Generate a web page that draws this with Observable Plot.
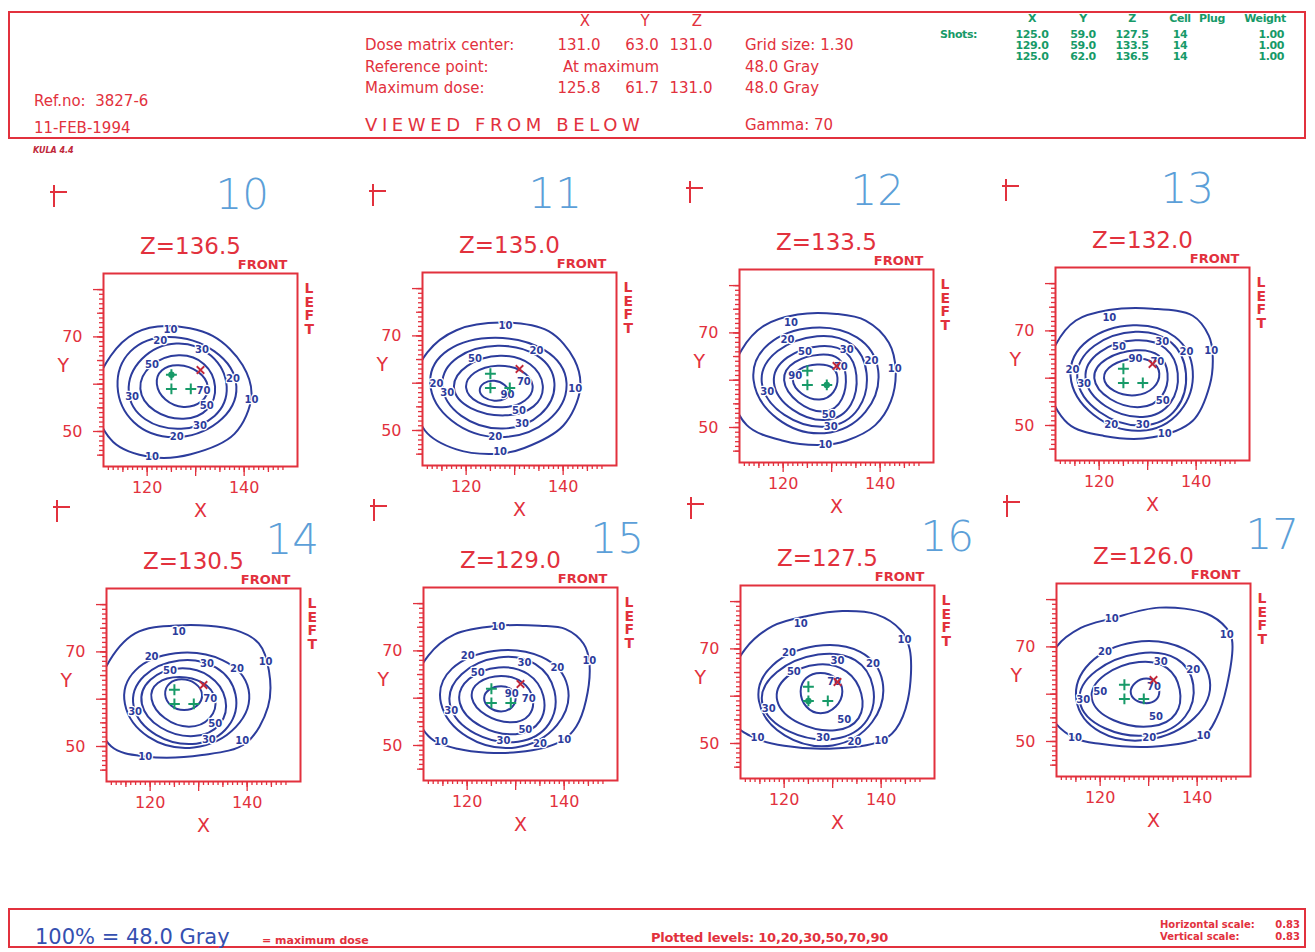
<!DOCTYPE html>
<html><head><meta charset="utf-8">
<script src="https://cdn.jsdelivr.net/npm/d3@7"></script>
<script src="https://cdn.jsdelivr.net/npm/@observablehq/plot@0.6"></script>
<style>
body{margin:0;background:#fff;width:1315px;height:952px;position:relative;overflow:hidden;font-family:"DejaVu Sans",sans-serif;}
.t{position:absolute;white-space:pre;line-height:1;}
.box{position:absolute;border:2px solid #e2313d;box-sizing:border-box;}
.pl{position:absolute;}
.glyph{position:absolute;width:0;height:0;}
.glyph .v{position:absolute;left:0;top:0;width:2px;height:22px;background:#e2313d;}
.glyph .h{position:absolute;left:-3px;top:6px;width:17px;height:2px;background:#e2313d;}
</style></head><body>
<script>
// ---------------- data ----------------
const axisNames = ["X", "Y", "Z"];
const doseMatrixCenter = [131.0, 63.0, 131.0];
const maximumDose = [125.8, 61.7, 131.0];
const gridSize = 1.30;
const referenceDose = 48.0;
const gamma = 70;
const refNo = "3827-6";
const dateText = "11-FEB-1994";
const shotHeaders = ["X", "Y", "Z", "Cell", "Plug", "Weight"];
// [x, y, z, cell, weight]
const shots = [[125.0, 59.0, 127.5, 14, 1.00], [129.0, 59.0, 133.5, 14, 1.00], [125.0, 62.0, 136.5, 14, 1.00]];
const plottedLevels = [10, 20, 30, 50, 70, 90];
const horizontalScale = 0.83, verticalScale = 0.83;

const zSlices = [136.5, 135.0, 133.5, 132.0, 130.5, 129.0, 127.5, 126.0];
const sliceNumbers = ["10", "11", "12", "13", "14", "15", "16", "17"];
const xTickLabels = [120, 140];
const yTickLabels = [50, 70];

// 10 % isodose line, points [x, y] read per slice
const outer10 = [
  [[109,57],[112.5,66],[117.5,70.8],[124,72.3],[133.5,70.2],[139.7,64],[141.5,57.5],[138,49.5],[129,45.2],[121,44.6],[113,47.8]],
  [[109,59],[112,66.5],[118,71.2],[128,72.8],[137,71],[142.3,65],[143.5,58.8],[140,51],[132,46.3],[126.7,45.1],[118,46],[111.5,50]],
  [[109,59],[111.5,66.5],[116,71.5],[123,73.9],[131,74],[137,72.6],[141.8,67.9],[143.2,62],[142.2,55.5],[139,50.5],[133,47.2],[128,46.3],[120,47.2],[112.5,50.5]],
  [[109,60],[111,67],[115.2,72.2],[122,74.4],[131,74.7],[139.3,73.2],[142.6,69],[143.4,65],[142.8,58.5],[139.3,51],[131,47.5],[121,47.8],[113.5,50.5]],
  [[108.5,58],[111,67],[116.9,73.9],[125.9,75.6],[137.6,74.6],[142.4,71.8],[144.5,66],[144.3,58.4],[139.7,50.7],[130.7,48.2],[119,47.9],[112,50]],
  [[108.5,61],[112,69],[117.4,73.5],[126.4,75.3],[135,75.3],[140.3,74.6],[144,71.5],[145.2,67.5],[144.5,59.5],[142.5,54],[139.7,51.1],[130.6,48.6],[118,49.3],[112,52]],
  [[108.5,62],[112,70],[117.6,74.8],[125,77],[132,78],[139,77.3],[144,74],[145.9,69.9],[145.5,59.2],[143,53],[139.7,50.4],[129.3,48.9],[120,49.5],[114.1,51.1],[110,54]],
  [[108,62],[111,70],[116,74],[122.4,76],[132.2,78.3],[142,77],[146,74],[147.2,71.4],[146.1,61.6],[144,55],[141.3,51.1],[130.8,48.9],[120,49.5],[114.8,50.7],[110,55]]
];

// inner isodose lines: [level, xLeft,yLeft, xTop,yTop, xRight,yRight, xBottom,yBottom]
const innerRings = [
  [[20,113.9,59.5,124.5,70.0,138.4,59.5,125.5,48.8],[30,116.2,58.5,126,68.6,136.4,59.5,127,50.6],[50,118.6,59,126.5,66.1,134,59.5,127.5,52.7],[70,122,60,126.5,64,132.5,59.5,127.5,55.2]],
  [[20,112.6,60,126,69.6,140.7,60,127,48.6],[30,115.1,59.5,126.5,67.9,138.2,60,127.5,50.4],[50,117.5,59,127,65.8,135.8,59.5,128,53.2],[70,120,59,126.5,63.7,133.7,59.5,127.5,54.9],[90,122.8,58.5,125.8,60.5,128.8,58,125.8,56.3]],
  [[20,113.9,60,126,71.1,139.6,62,128.5,48.8],[30,115.6,59.5,127,69.3,137.2,61.5,129,50.2],[50,118.1,59.5,127.5,67.2,135.1,61,129,51.6],[70,120.2,60,127.5,65.4,132.9,61,128.5,53.4],[90,122,60,127,63.3,131.2,60.5,127.5,55.9]],
  [[20,114.1,60.5,127,71.2,139.3,61.5,128.5,48.9],[30,115.5,60,127.5,69.8,137.9,61,129,50],[50,117.2,60,127.5,68,136.2,61,129,51.8],[70,119,60,127.5,65.9,134.1,61,128.5,53.9],[90,121,60,127,64.1,132.4,61,127.5,56.4]],
  [[20,114.8,59,125.2,69.7,140.3,62,129,49.8],[30,116.6,58.5,126,68.2,137.6,61,129.5,50.6],[50,118.3,59,126,66.5,135.5,60,129,52.2],[70,120.3,60,126,64.7,133.4,60,128,54.2],[90,123.1,61,126.5,64.2,130.7,61,127,57.7]],
  [[20,114.6,59,125.5,70,140.7,62.5,130,49.6],[30,116.5,58.5,126.5,68.6,138,61.5,130.5,50.8],[50,118.5,59,126.5,66.5,135.7,60.5,130,52.4],[70,121,60,127,64.7,133.5,60,129,54.9],[90,123.5,60,127,62.5,130,60,127,57.2]],
  [[20,114.8,59,126.5,70.6,140.3,63,130,49.6],[30,115.5,58.5,127,68.8,138.3,62,130.5,51],[50,118.6,59,127,66.7,135.9,60.5,130.5,52.8],[70,123.4,61,127.5,64.9,132,61,127.5,56.4]],
  [[20,115.1,58.8,127,71,142.6,63,130,50.4],[30,115.8,58.5,128,68.6,139.2,62,130.5,51.4],[50,118.3,59,128,66.8,136.4,61,130.5,53.2],[70,126.3,60.5,129.5,63.3,132.2,60.5,129.5,58.1]]
];

// contour labels: [level, x, y]
const contourLabels = [
  [[10,124.8,71.4],[10,141.5,56.6],[10,121,44.6],[20,122.7,69.2],[20,137.7,61.2],[20,126.1,48.8],[30,131.3,67.2],[30,116.9,57.3],[30,130.9,51.3],[50,121,64],[50,132.3,55.5],[70,131.6,58.7]],
  [[10,128.1,72.1],[10,142.5,58.8],[10,127,45.4],[20,113.9,59.8],[20,134.5,66.8],[20,126,48.7],[30,116.1,57.9],[30,131.5,51.5],[50,121.8,65.1],[50,130.9,54.2],[70,131.9,60.4],[90,128.5,57.5]],
  [[10,121.6,72.1],[10,143,62.4],[10,128.7,46.3],[20,120.9,68.6],[20,138.2,64],[30,133.1,66.5],[30,116.7,57.6],[30,129.8,50.2],[50,124.5,66.1],[50,129.4,52.7],[70,131.9,62.9],[90,122.5,61]],
  [[10,122.1,72.8],[10,143.1,65.7],[10,133.5,48.2],[20,114.5,61.7],[20,122.5,50.2],[20,138,65.5],[30,116.9,58.8],[30,129,50.2],[30,133,67.6],[50,124.1,66.6],[50,133.1,55.3],[90,127.5,64.1],[70,132,63.5]],
  [[10,125.9,74.2],[10,143.8,67.9],[10,139,51.1],[10,119,47.9],[20,120.3,68.9],[20,137.9,66.5],[30,131.7,67.5],[30,116.9,57.4],[30,132.1,51.5],[50,124.1,66.1],[50,133.4,54.9],[70,132.4,60]],
  [[10,126.4,75.1],[10,145.2,67.9],[10,114.6,50.7],[10,140,51.3],[20,120.1,68.9],[20,138.6,66.5],[20,135,50.3],[30,131.8,67.5],[30,116.7,57.4],[30,127.5,50.9],[50,122.2,65.4],[50,132,53.4],[70,132.7,59.8],[90,129.2,61]],
  [[10,123.4,75.4],[10,144.8,72],[10,114.5,51.1],[10,140,50.6],[20,121,69.1],[20,138.3,66.9],[20,134.5,50.4],[30,131,67.4],[30,116.8,57.4],[30,128,51.1],[50,122,65.2],[50,132.4,55],[70,130.3,63.1]],
  [[10,122.4,76],[10,146.1,72.5],[10,114.8,50.7],[10,141.3,51.1],[20,121,69],[20,139.2,65.1],[20,130.1,50.7],[30,132.5,66.8],[30,116.5,58.8],[50,120,60.5],[50,131.5,55.3],[70,131.1,61.6]]
];

// ---------------- layout ----------------
const RED = "#e2313d", BLUE = "#2c3c9c", GREEN = "#179a68", HAND = "#5c9fd8", DARKRED = "#c2283a";
const frameLeft = [103, 422, 739, 1055, 106, 423, 740, 1056];
const frameTop = [273, 272, 269, 267, 588, 587, 585, 583];
const handDx = [112, 106, 111, 105, 159, 167, 180, 189];
const FW = 194, FH = 193, ML = 60, MR = 30, MT = 100, MB = 60;

function put(txt, x, y, style = "", anchor = "start") {
  const d = document.createElement("div");
  d.className = "t";
  d.textContent = txt;
  const tx = anchor === "middle" ? "-50%" : anchor === "end" ? "-100%" : "0";
  d.style.cssText = `left:${x}px;top:${y}px;transform:translate(${tx},-50%);color:${RED};font-size:15px;` + style;
  document.body.appendChild(d);
  return d;
}
function box(x, y, w, h) {
  const d = document.createElement("div");
  d.className = "box";
  d.style.cssText = `left:${x}px;top:${y}px;width:${w}px;height:${h}px;`;
  document.body.appendChild(d);
}

// header
box(8, 11, 1298, 128);
const colX = [585, 645, 697];
axisNames.forEach((n, i) => put(n, colX[i], 21, "", "middle"));
put("Dose matrix center:", 365, 45);
doseMatrixCenter.forEach((v, i) => put(v.toFixed(1), colX[i] - 6 + (i === 1 ? 3 : 0), 45, "", "middle"));
put("Reference point:", 365, 67);
put("At maximum", 611, 67, "", "middle");
put("Maximum dose:", 365, 88);
maximumDose.forEach((v, i) => put(v.toFixed(1), colX[i] - 6 + (i === 1 ? 3 : 0), 88, "", "middle"));
put(`Grid size: ${gridSize.toFixed(2)}`, 745, 45);
put(`${referenceDose.toFixed(1)} Gray`, 745, 67);
put(`${referenceDose.toFixed(1)} Gray`, 745, 88);
put(`Ref.no:  ${refNo}`, 34, 101);
put(dateText, 34, 128);
put("VIEWED FROM BELOW", 365, 125, "font-size:18px;letter-spacing:4.6px;");
put(`Gamma: ${gamma}`, 745, 125);
put("KULA 4.4", 33, 151, "font-size:8px;font-weight:bold;font-style:italic;color:#c0283a;");

// shots table (green)
const gStyle = `color:${GREEN};font-size:11px;font-weight:bold;letter-spacing:-0.4px;`;
const shotColX = [1032, 1083, 1132, 1180, 1212, 1265];
shotHeaders.forEach((h, i) => put(h, shotColX[i], 18, gStyle, "middle"));
put("Shots:", 940, 34, gStyle);
shots.forEach((s, r) => {
  const y = 34 + r * 11;
  put(s[0].toFixed(1), shotColX[0], y, gStyle, "middle");
  put(s[1].toFixed(1), shotColX[1], y, gStyle, "middle");
  put(s[2].toFixed(1), shotColX[2], y, gStyle, "middle");
  put(String(s[3]), shotColX[3], y, gStyle, "middle");
  put(s[4].toFixed(2), 1284, y, gStyle, "end");
});

// footer
box(8, 908, 1298, 40);
put(`100% = ${referenceDose.toFixed(1)} Gray`, 35, 937, `color:#3550b0;font-size:21px;`);
put("= maximum dose", 262, 940, "font-size:11px;font-weight:bold;");
put(`Plotted levels: ${plottedLevels.join(",")}`, 651, 937, "font-size:13px;font-weight:bold;letter-spacing:-0.2px;");
put("Horizontal scale:", 1160, 925, "font-size:10px;font-weight:bold;");
put(horizontalScale.toFixed(2), 1300, 925, "font-size:10px;font-weight:bold;", "end");
put("Vertical scale:", 1160, 937, "font-size:10px;font-weight:bold;");
put(verticalScale.toFixed(2), 1300, 937, "font-size:10px;font-weight:bold;", "end");

// ---------------- panels ----------------
const xMinor = d3.range(112, 149);
const yMinor = d3.range(45, 81);

function panel(i) {
  const z = zSlices[i];
  const outerRows = outer10[i].map(([x, y]) => ({x, y}));
  const innerRows = innerRings[i].flatMap(([lvl, xL, yL, xT, yT, xR, yR, xB, yB]) => [
    {lvl, x: xL, y: yL}, {lvl, x: xT, y: yT}, {lvl, x: xR, y: yR}, {lvl, x: xB, y: yB}
  ]);
  const labels = contourLabels[i].map(([lvl, x, y]) => ({lvl, x, y}));
  const inPlane = shots.filter(s => s[2] === z);
  const tickStyle = {color: RED, strokeWidth: 1.3, label: null, tickFormat: () => ""};
  return Plot.plot({
    width: ML + FW + MR, height: MT + FH + MB,
    marginLeft: ML, marginRight: MR, marginTop: MT, marginBottom: MB,
    style: {background: "transparent", overflow: "visible", fontFamily: "DejaVu Sans, sans-serif"},
    x: {domain: [111, 151], axis: null},
    y: {domain: [42.6, 83.4], axis: null},
    marks: [
      Plot.line(outerRows, {x: "x", y: "y", curve: "catmull-rom-closed", stroke: BLUE, strokeWidth: 2, clip: true}),
      Plot.line(innerRows, {x: "x", y: "y", z: "lvl", curve: "cardinal-closed", tension: -0.657, stroke: BLUE, strokeWidth: 2, clip: true}),
      Plot.text(labels, {x: "x", y: "y", text: d => String(d.lvl), fill: BLUE, fontSize: 10, fontWeight: "bold", stroke: "white", strokeWidth: 2.5, paintOrder: "stroke"}),
      Plot.dot(shots, {x: d => d[0], y: d => d[1], symbol: "plus", r: 3.6, stroke: GREEN, strokeWidth: 2}),
      Plot.dot(inPlane, {x: d => d[0], y: d => d[1], r: 3.2, fill: GREEN}),
      Plot.dot([doseMatrixCenter], {x: d => d[0], y: d => d[1], symbol: "times", r: 3.5, stroke: DARKRED, strokeWidth: 1.8}),
      Plot.frame({stroke: RED, strokeWidth: 2}),
      Plot.axisX(xMinor, {anchor: "bottom", tickSize: 4, ...tickStyle}),
      Plot.axisX(xMinor.filter(v => v % 5 === 0), {anchor: "bottom", tickSize: 6, ...tickStyle}),
      Plot.axisX([120, 130, 140], {anchor: "bottom", tickSize: 10, tickPadding: 5, color: RED, strokeWidth: 1.3, label: null, fontSize: 16,
        tickFormat: d => xTickLabels.includes(d) ? String(d) : ""}),
      Plot.axisY(yMinor, {anchor: "left", tickSize: 4, ...tickStyle}),
      Plot.axisY(yMinor.filter(v => v % 5 === 0), {anchor: "left", tickSize: 6, ...tickStyle}),
      Plot.axisY([50, 60, 70, 80], {anchor: "left", tickSize: 10, tickPadding: 11, color: RED, strokeWidth: 1.3, label: null, fontSize: 16,
        tickFormat: d => yTickLabels.includes(d) ? String(d) : ""}),
      Plot.text(["X"], {frameAnchor: "bottom", lineAnchor: "middle", dy: 44, fill: RED, fontSize: 19}),
      Plot.text(["Y"], {frameAnchor: "left", lineAnchor: "middle", dx: -46, dy: -4, fill: RED, fontSize: 19}),
      Plot.text([`Z=${z.toFixed(1)}`], {frameAnchor: "top", lineAnchor: "middle", dx: -10, dy: -27, fill: RED, fontSize: 23}),
      Plot.text(["FRONT"], {frameAnchor: "top-right", lineAnchor: "middle", dx: -10, dy: -9, textAnchor: "end", fill: RED, fontSize: 13, fontWeight: "bold"}),
      Plot.text(["L\nE\nF\nT"], {frameAnchor: "top-right", dx: 7, dy: 10, textAnchor: "start", lineAnchor: "top", lineHeight: 0.97, fill: RED, fontSize: 14, fontWeight: "bold"}),
      Plot.text([sliceNumbers[i]], {frameAnchor: "top-left", lineAnchor: "middle", dx: handDx[i], dy: i < 4 ? -78 : -48, fill: HAND, fontSize: 42, fontWeight: 200})
    ]
  });
}

zSlices.forEach((z, i) => {
  const svg = panel(i);
  const wrap = document.createElement("div");
  wrap.className = "pl";
  wrap.style.left = (frameLeft[i] - ML) + "px";
  wrap.style.top = (frameTop[i] - MT) + "px";
  wrap.appendChild(svg);
  document.body.appendChild(wrap);
  const g = document.createElement("div");
  g.className = "glyph";
  g.style.left = (frameLeft[i] - 50) + "px";
  g.style.top = (frameTop[i] - 88) + "px";
  g.innerHTML = '<div class="v"></div><div class="h"></div>';
  document.body.appendChild(g);
});
</script>
</body></html>
